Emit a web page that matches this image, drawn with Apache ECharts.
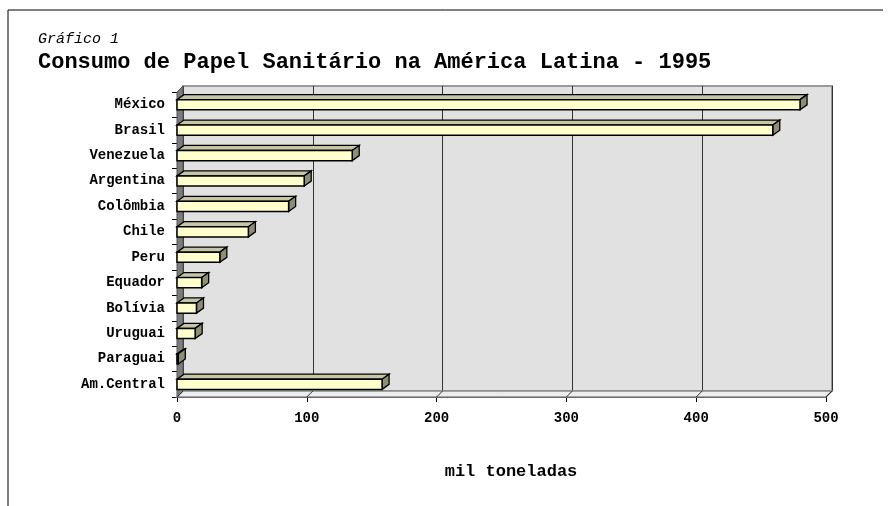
<!DOCTYPE html>
<html>
<head>
<meta charset="utf-8">
<script src="https://cdn.jsdelivr.net/npm/echarts@6/dist/echarts.min.js"></script>
<style>html,body{margin:0;padding:0;background:#fff}#c{width:892px;height:506px}</style>
</head>
<body>
<div id="c"></div>
<script>
const categories = ['México','Brasil','Venezuela','Argentina','Colômbia','Chile','Peru','Equador','Bolívia','Uruguai','Paraguai','Am.Central'];
const consumo = [480, 459, 135, 98, 86, 55, 33, 19, 15, 14, 1, 158];
const xTicks = [0, 100, 200, 300, 400, 500];
const chartLabel = 'Gráfico 1';
const chartTitle = 'Consumo de Papel Sanitário na América Latina - 1995';
const axisTitle = 'mil toneladas';

const FONT = 'Liberation Mono';
const WALL_DX = 6, WALL_DY = 6;
const BAR_DX = 7, BAR_DY = 5;

const chart = echarts.init(document.getElementById('c'), null, {renderer: 'canvas'});

function renderFrame(params, api) {
  const cs = params.coordSys;
  const x = cs.x, y = cs.y, w = cs.width, h = cs.height;
  const children = [];
  children.push({type: 'polygon', shape: {points: [[x, y], [x + WALL_DX, y - WALL_DY], [x + WALL_DX, y + h - WALL_DY], [x, y + h]]},
    style: {fill: '#7c7c7c', stroke: '#555', lineWidth: 1}});
  children.push({type: 'polygon', shape: {points: [[x, y + h], [x + w, y + h], [x + w + WALL_DX, y + h - WALL_DY], [x + WALL_DX, y + h - WALL_DY]]},
    style: {fill: '#ececec', stroke: '#8a8a8a', lineWidth: 1.5}});
  xTicks.forEach(function (t) {
    const px = api.coord([t, 0])[0];
    children.push({type: 'line', shape: {x1: px, y1: y + h, x2: px + WALL_DX, y2: y + h - WALL_DY}, style: {stroke: '#333', lineWidth: 1}});
  });
  return {type: 'group', children: children};
}

function renderBar(params, api) {
  const v = api.value(0);
  const idx = api.value(1);
  const p0 = api.coord([0, idx]);
  const p1 = api.coord([v, idx]);
  const band = api.size([0, 1])[1];
  const h = band * 0.4;
  const x0 = p0[0], x1 = p1[0];
  const yt = p0[1] - h / 2, yb = p0[1] + h / 2;
  return {type: 'group', children: [
    {type: 'polygon', shape: {points: [[x0, yt], [x0 + BAR_DX, yt - BAR_DY], [x1 + BAR_DX, yt - BAR_DY], [x1, yt]]},
      style: {fill: '#c6c6a6', stroke: '#000', lineWidth: 1.3}},
    {type: 'polygon', shape: {points: [[x1, yt], [x1 + BAR_DX, yt - BAR_DY], [x1 + BAR_DX, yb - BAR_DY], [x1, yb]]},
      style: {fill: '#8e8e74', stroke: '#000', lineWidth: 1.3}},
    {type: 'rect', shape: {x: x0, y: yt, width: Math.max(x1 - x0, 0.5), height: h},
      style: {fill: '#ffffcc', stroke: '#000', lineWidth: 1.5}}
  ]};
}

const option = {
  backgroundColor: '#fff',
  animation: false,
  title: [
    {text: chartLabel, left: 33, top: 27, textStyle: {fontFamily: FONT, fontStyle: 'italic', fontWeight: 'normal', fontSize: 15, color: '#000'}},
    {text: chartTitle, left: 33, top: 46, textStyle: {fontFamily: FONT, fontWeight: 'bold', fontSize: 22, color: '#000'}}
  ],
  grid: [
    {left: 177, right: 66, top: 92, bottom: 109, show: false},
    {left: 183, right: 60, top: 86, bottom: 115, show: true, backgroundColor: '#e1e1e1', borderColor: '#999', borderWidth: 2, z: 0}
  ],
  xAxis: [
    {type: 'value', gridIndex: 0, min: 0, max: 500, interval: 100,
      axisLine: {show: true, lineStyle: {color: '#000', width: 1}},
      axisTick: {show: true, length: 5, lineStyle: {color: '#000'}},
      axisLabel: {margin: 14, fontFamily: FONT, fontWeight: 'bold', fontSize: 14, color: '#000',
        formatter: function (v) { return xTicks.indexOf(v) >= 0 ? String(v) : ''; }},
      splitLine: {show: false}},
    {type: 'value', gridIndex: 1, min: 0, max: 500, interval: 100,
      axisLine: {show: false}, axisTick: {show: false}, axisLabel: {show: false},
      splitLine: {show: true, lineStyle: {color: '#333', width: 1}}}
  ],
  yAxis: [
    {type: 'category', gridIndex: 0, data: categories, inverse: true,
      axisLine: {show: true, lineStyle: {color: '#000', width: 1}},
      axisTick: {show: true, length: 5, lineStyle: {color: '#000'}},
      axisLabel: {margin: 12, fontFamily: FONT, fontWeight: 'bold', fontSize: 14, color: '#000'}},
    {type: 'category', gridIndex: 1, data: categories, inverse: true, show: false}
  ],
  series: [
    {type: 'custom', xAxisIndex: 0, yAxisIndex: 0, z: 1, silent: true,
      renderItem: renderFrame, data: [[0, 0]], encode: {x: 0, y: 1}},
    {type: 'custom', name: 'Consumo', xAxisIndex: 0, yAxisIndex: 0, z: 3,
      renderItem: renderBar,
      data: consumo.map(function (v, i) { return [v, i]; }),
      encode: {x: 0, y: 1}}
  ],
  graphic: [
    {type: 'line', shape: {x1: 8, y1: 10, x2: 883, y2: 10}, style: {stroke: '#000', lineWidth: 1}, z: 10},
    {type: 'line', shape: {x1: 8, y1: 10, x2: 8, y2: 506}, style: {stroke: '#000', lineWidth: 1}, z: 10},
    {type: 'text', x: 511, y: 472, style: {text: axisTitle, fontFamily: FONT, fontWeight: 'bold', fontSize: 17, fill: '#000', textAlign: 'center', textVerticalAlign: 'middle'}}
  ]
};
chart.setOption(option);
</script>
</body>
</html>
